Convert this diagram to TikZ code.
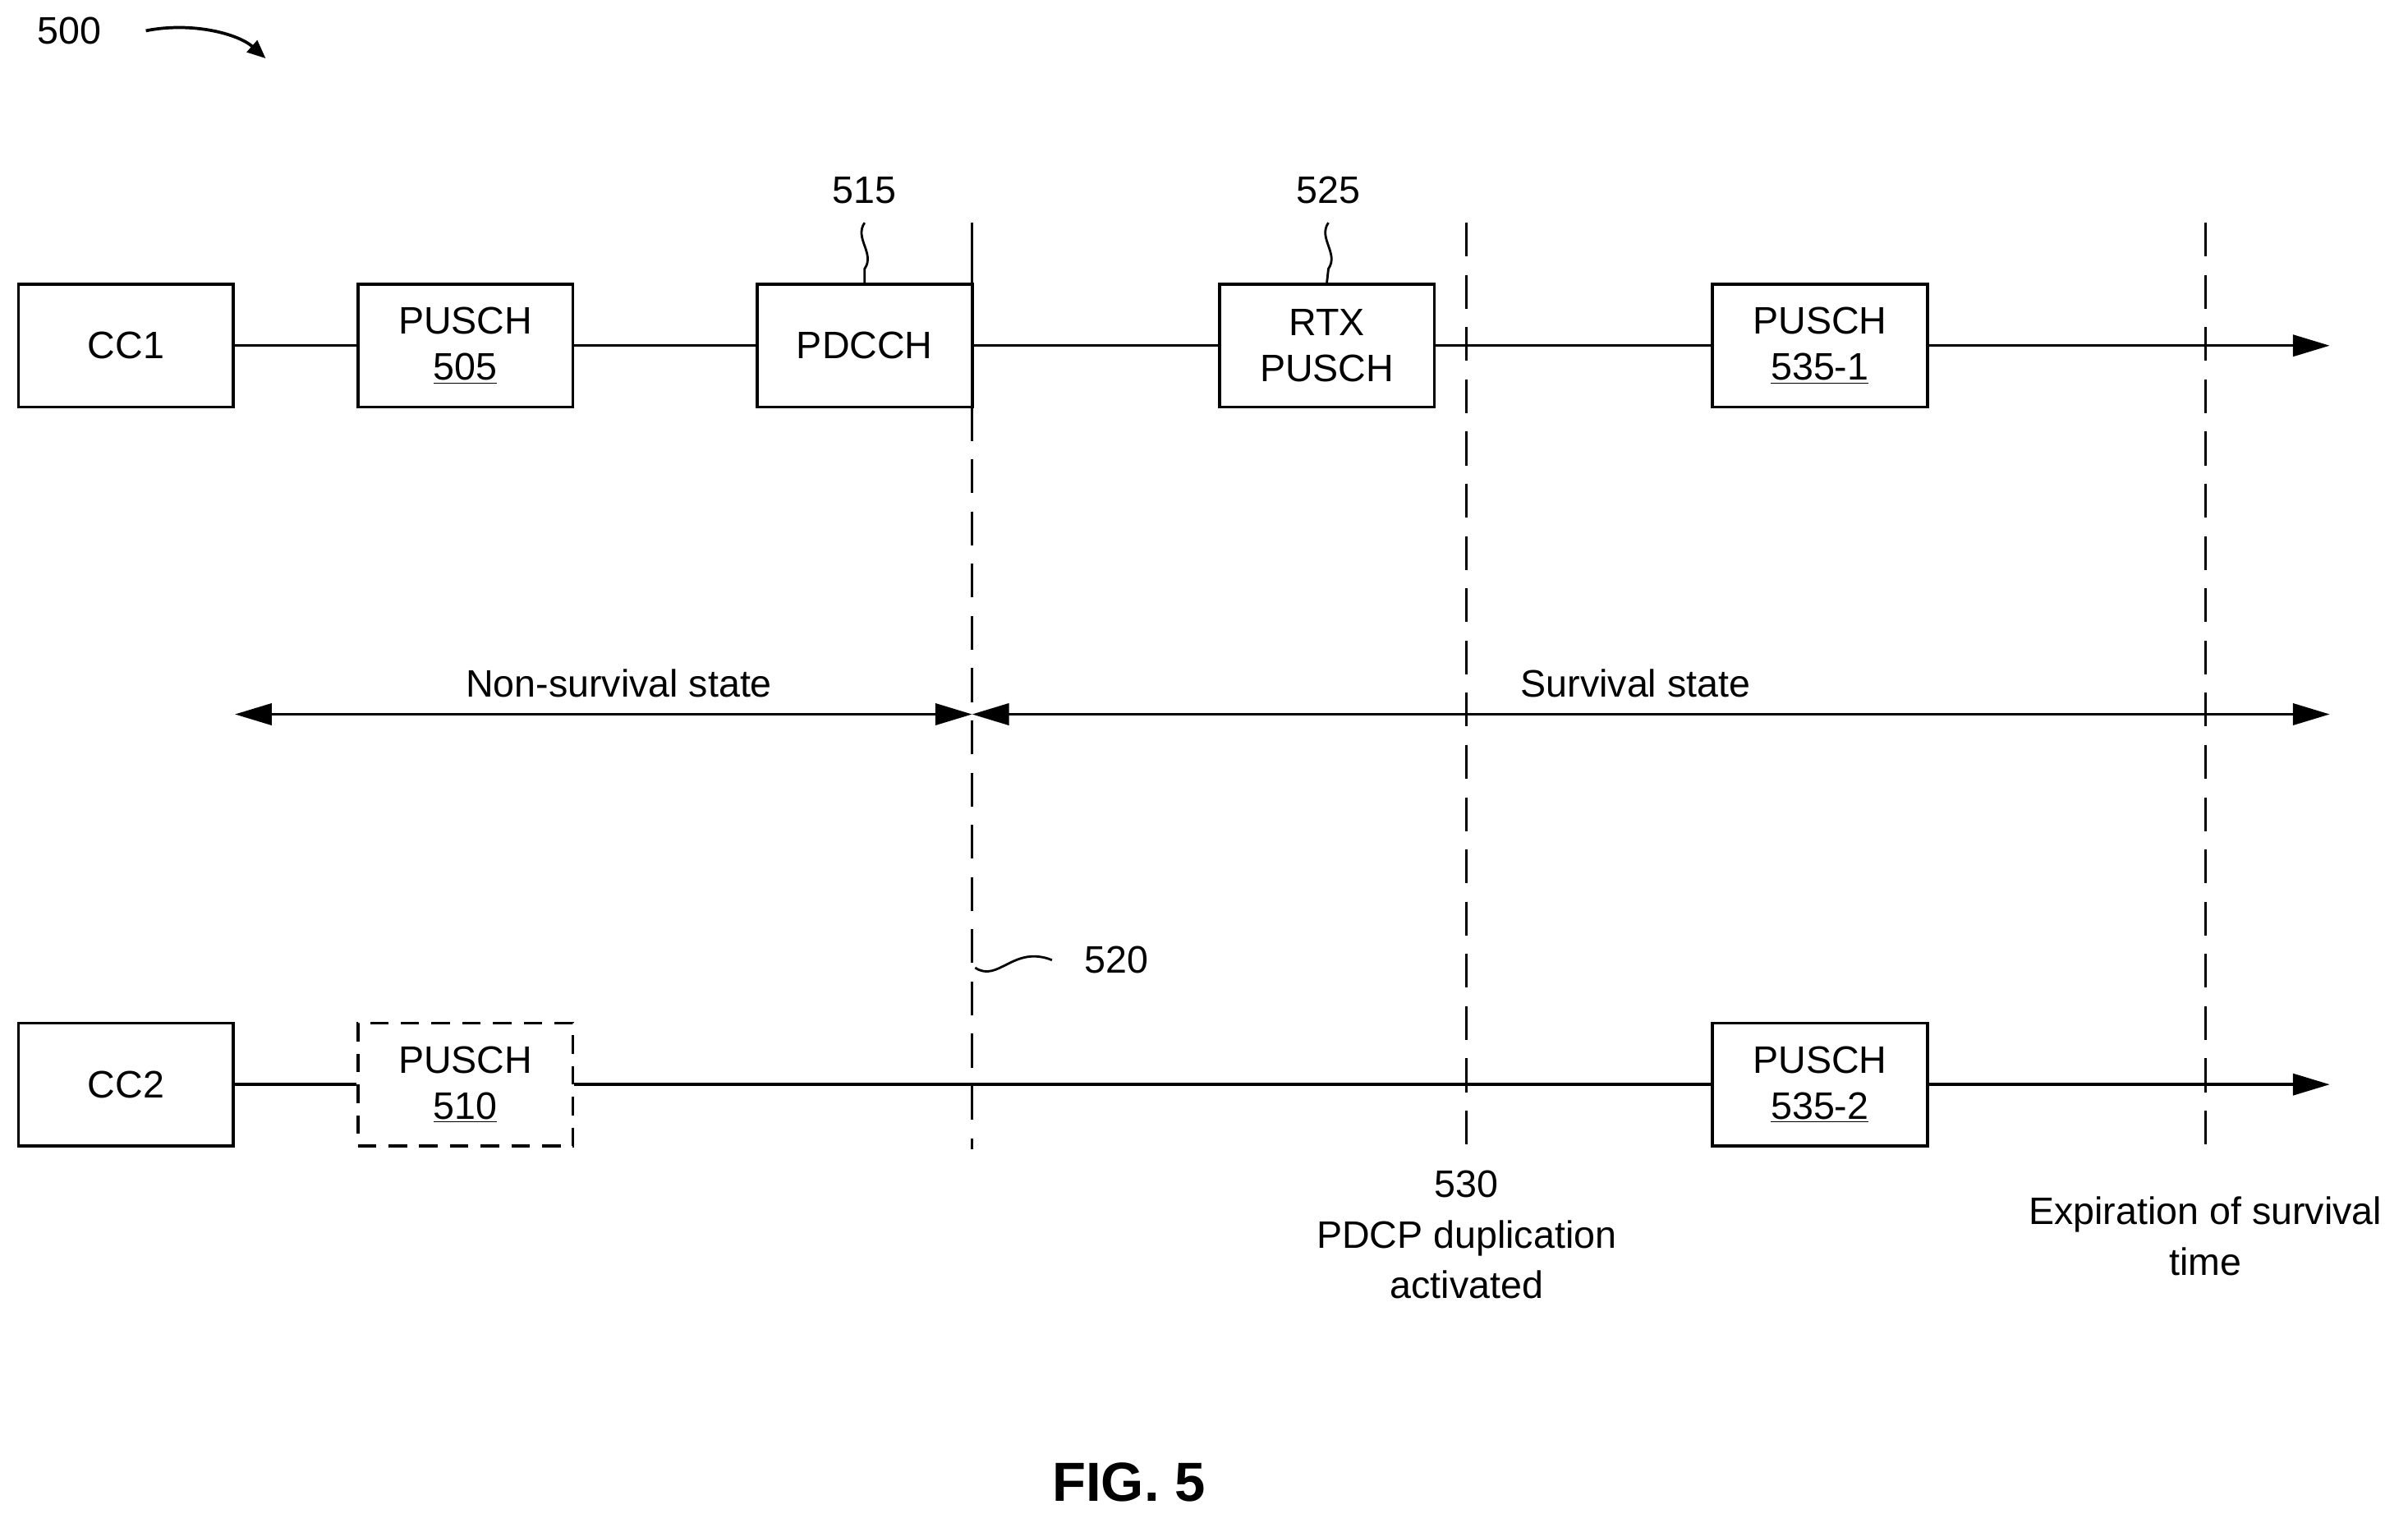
\documentclass[tikz,border=0pt]{standalone}
\usepackage{fontspec}
\setmainfont{Liberation Sans}
\usetikzlibrary{arrows.meta}
\begin{document}
\begin{tikzpicture}[x=1bp,y=-1bp,
  font=\fontsize{25}{29}\selectfont,
  box/.style={draw,line width=2pt,minimum width=140bp,minimum height=80bp,inner sep=0pt,align=center,font=\fontsize{25}{30}\selectfont},
  ln/.style={line width=1.8pt},
  dsh/.style={line width=1.8pt,dash pattern=on 22bp off 12bp},
  arr/.style={-{Triangle[length=24bp,width=14bp]}},
  lbl/.style={inner sep=0pt,align=center}]
\useasboundingbox (0,0) rectangle (1568,991);
\node[box] (cc1) at (82,225) {CC1};
\node[box] (p505) at (303,225) {PUSCH\\\underline{505}};
\node[box] (pdcch) at (563,225) {PDCCH};
\node[box] (rtx) at (864,225) {RTX\\PUSCH};
\node[box] (p5351) at (1185,225) {PUSCH\\\underline{535-1}};
\coordinate (e1) at (1517,225);
\draw[ln] (cc1) -- (p505); \draw[ln] (p505) -- (pdcch); \draw[ln] (pdcch) -- (rtx);
\draw[ln] (rtx) -- (p5351); \draw[ln,arr] (p5351) -- (e1);

\node[box] (cc2) at (82,706) {CC2};
\node[box,dash pattern=on 12bp off 8bp] (p510) at (303,706) {PUSCH\\\underline{510}};
\node[box] (p5352) at (1185,706) {PUSCH\\\underline{535-2}};
\coordinate (e2) at (1517,706);
\draw[ln] (cc2) -- (p510); \draw[ln] (p510) -- (p5352); \draw[ln,arr] (p5352) -- (e2);

% vertical lines
\coordinate (v1t) at (633,145); \coordinate (v1m) at (633,265); \coordinate (v1b) at (633,748);
\draw[ln] (v1t) -- (v1m);
\draw[dsh] (v1m) -- (v1b);
\coordinate (v2t) at (955,145); \coordinate (v2b) at (955,750);
\draw[dsh] (v2t) -- (v2b);
\coordinate (v3t) at (1436,145); \coordinate (v3b) at (1436,750);
\draw[dsh] (v3t) -- (v3b);

% state arrows
\coordinate (s0) at (153,465); \coordinate (s1) at (633,465); \coordinate (s2) at (1517,465);
\draw[ln,{Triangle[length=24bp,width=14bp]}-{Triangle[length=24bp,width=14bp]}] (s0) -- (s1);
\draw[ln,{Triangle[length=24bp,width=14bp]}-{Triangle[length=24bp,width=14bp]}] (s1) -- (s2);
\node[lbl] (ns) at (403,445) {Non-survival state};
\node[lbl] (ss) at (1065,445) {Survival state};

% reference labels
\node[lbl] (l515) at (563,124) {515};
\draw[line width=1.5pt] (563,145) .. controls (556,155) and (570,165) .. (563,175) -- (pdcch.north);
\node[lbl] (l525) at (865,124) {525};
\draw[line width=1.5pt] (865,145) .. controls (858,155) and (872,165) .. (865,175) -- (rtx.north);
\node[lbl] (l520) at (727,625) {520};
\draw[line width=1.5pt] (635,630) .. controls (650,640) and (660,615) .. (685,625);
\node[lbl,anchor=north] (l530) at (955,762) {530\\[4bp]PDCP duplication\\[4bp]activated};
\node[lbl,anchor=north] (exp) at (1436,779) {Expiration of survival\\[4bp]time};

\node[lbl] (l500) at (45,20) {500};
\coordinate (a0) at (95,20); \coordinate (a1) at (173,38);
\draw[line width=2pt,-{Triangle[length=12bp,width=10bp]}] (a0) .. controls (125,14) and (155,22) .. (a1);
\node[lbl,font=\fontsize{36}{40}\selectfont\bfseries] (fig) at (735,965) {FIG. 5};
\end{tikzpicture}
\end{document}
